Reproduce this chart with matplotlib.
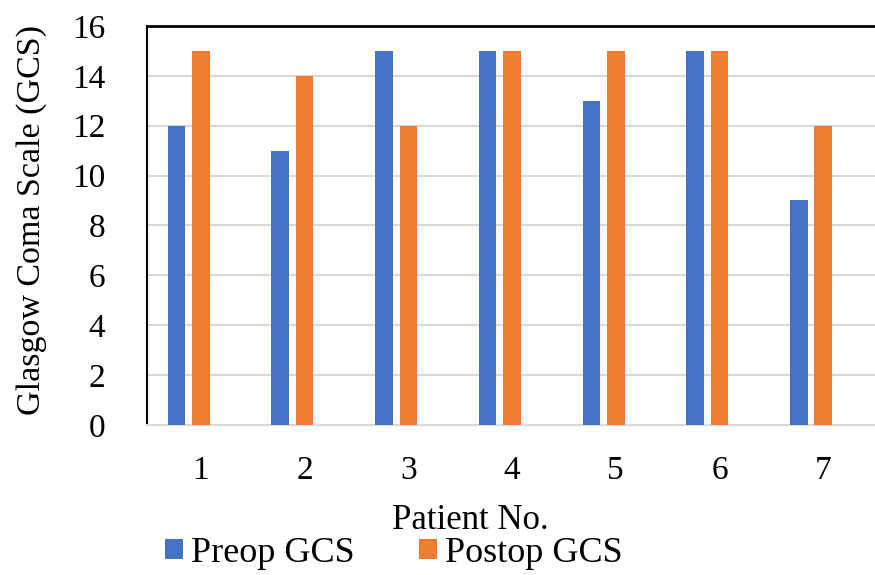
import matplotlib.pyplot as plt
import numpy as np

patients = [1, 2, 3, 4, 5, 6, 7]
preop_gcs = [12, 11, 15, 15, 13, 15, 9]
postop_gcs = [15, 14, 12, 15, 15, 15, 12]

plt.rcParams['font.family'] = 'serif'
plt.rcParams['font.serif'] = ['Liberation Serif', 'DejaVu Serif']

fig = plt.figure(figsize=(8.75, 5.75), dpi=100)
ax = fig.add_axes([0.168, 0.261, 0.832, 0.694])

x = np.array(patients)
w = 0.17
# Excel-style cluster: orange sits on the category, blue to its left
ax.bar(x - 0.235, preop_gcs, width=w, color='#4472C4', label='Preop GCS', zorder=3)
ax.bar(x, postop_gcs, width=w, color='#ED7D31', label='Postop GCS', zorder=3)

ax.set_xlim(0.48, 7.5)
ax.set_ylim(0, 16)
ax.set_yticks(range(0, 17, 2))
ax.set_xticks(patients)
ax.tick_params(axis='both', length=0, labelsize=24)
ax.tick_params(axis='y', pad=30)
ax.tick_params(axis='x', pad=22)
ax.yaxis.grid(True, color='#d9d9d9', lw=1.5, zorder=0)

ax.spines['right'].set_visible(False)
ax.spines['bottom'].set_color('#d9d9d9')
ax.spines['bottom'].set_linewidth(1.5)
ax.spines['left'].set_linewidth(1.5)
ax.spines['top'].set_linewidth(2)

ax.set_ylabel('Glasgow Coma Scale (GCS)', fontsize=24.5)
ax.yaxis.set_label_coords(-0.137, 0.514)
fig.text(0.538, 0.095, 'Patient No.', fontsize=25, ha='center', va='center')

fig.legend(loc='center', bbox_to_anchor=(0.45, 0.038), ncol=2, frameon=False,
           fontsize=26, handlelength=0.5, handleheight=0.5, handletextpad=0.2,
           columnspacing=1.8, borderpad=0)

fig.savefig('out.png', dpi=100)
